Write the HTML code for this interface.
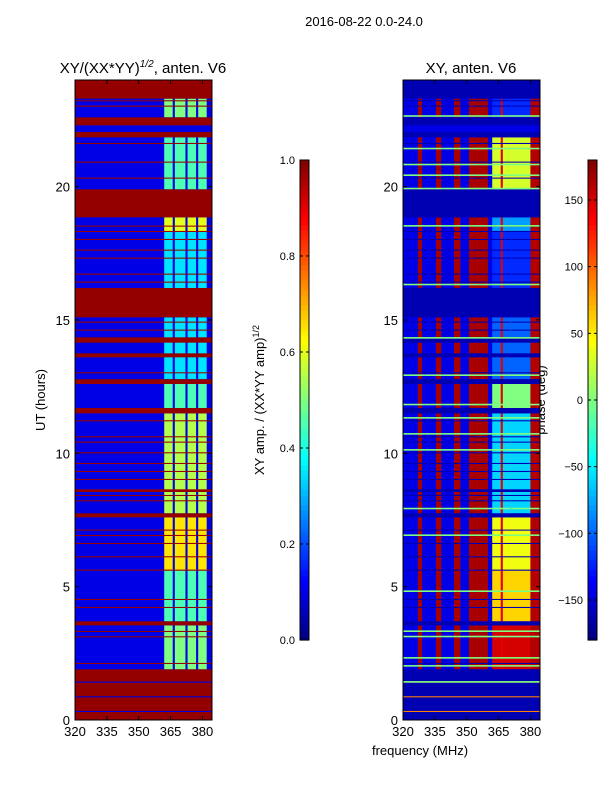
<!DOCTYPE html>
<html><head><meta charset="utf-8">
<style>
html,body{margin:0;padding:0;background:#fff;}
svg{display:block;font-family:"Liberation Sans",sans-serif;}
</style></head>
<body>
<svg id="fig" width="600" height="800" viewBox="0 0 600 800">
<text x="364" y="26" font-size="13" text-anchor="middle">2016-08-22 0.0-24.0</text>
<text x="143" y="73" font-size="15" text-anchor="middle">XY/(XX*YY)<tspan dy="-6" font-size="10" font-style="italic">1/2</tspan><tspan dy="6">, anten. V6</tspan></text>
<text x="471" y="73" font-size="15" text-anchor="middle">XY, anten. V6</text>
<text transform="translate(45,400) rotate(-90)" font-size="13" text-anchor="middle">UT (hours)</text>
<text transform="translate(264,400) rotate(-90)" font-size="13" text-anchor="middle">XY amp. / (XX*YY amp)<tspan dy="-5" font-size="9">1/2</tspan></text>
<text transform="translate(545,400) rotate(-90)" font-size="13" text-anchor="middle">phase (deg)</text>
<text x="420" y="755" font-size="13" text-anchor="middle">frequency (MHz)</text>
<g id="left"></g>
<g id="right"></g>
<g id="cbs"></g>
</svg>
<script>
// ---- data ----
const flagged = [[0,1.9],[15.1,16.2],[18.85,19.9],[23.3,24],[22.3,22.6],[21.85,22.05],[11.5,11.7],[7.6,7.75],[3.55,3.7],[12.6,12.78],[13.6,13.75],[14.15,14.35],[8.55,8.65]];
const thinFlags = [2.1,3.1,3.3,4.2,4.5,5.6,6.1,6.6,6.9,7.1,8.2,8.4,9.0,9.3,9.6,10.0,10.4,10.6,11.2,13.0,14.6,14.9,16.4,16.7,17.3,17.6,18.0,18.3,18.5,20.3,20.9,21.6,23.0,23.2];
const gapLines = [0.3,0.85,1.4];
const bandStart = [1.9,3.7,5.6,7.75,11.7,12.78,16.2,18.3,19.9,22.6];
const bandEnd   = [3.55,5.6,7.6,11.5,12.6,15.1,18.3,18.85,21.85,23.3];
const bandAmp   = [0.5,0.45,0.65,0.55,0.45,0.35,0.35,0.6,0.45,0.5];
const bandPhase = [150,60,40,-60,0,-100,-120,-80,30,-120];
const lowAmp = 0.1;
const hiCols = [[362,366],[367,372],[373,377],[378,382]];
const redStripes = [[327,329],[335.5,338],[344,347],[351,360]];
const greenLines = [1.4,2.0,2.3,3.1,3.3,4.8,6.9,7.9,10.1,10.7,11.3,11.8,12.9,14.3,16.3,18.5,19.9,20.4,20.8,21.4,22.62];
const xTicks = [320,335,350,365,380];
const yTicks = [0,5,10,15,20];
const ampTicks = [0.0,0.2,0.4,0.6,0.8,1.0];
const phaseTicks = [-150,-100,-50,0,50,100,150];
// ---- helpers ----
const NS="http://www.w3.org/2000/svg";
function jet(v){v=Math.max(0,Math.min(1,v));
 const r=Math.max(0,Math.min(1,1.5-Math.abs(4*v-3))),g=Math.max(0,Math.min(1,1.5-Math.abs(4*v-2))),b=Math.max(0,Math.min(1,1.5-Math.abs(4*v-1)));
 return `rgb(${Math.round(r*255)},${Math.round(g*255)},${Math.round(b*255)})`;}
function mk(p,tag,a){const e=document.createElementNS(NS,tag);for(const k in a)e.setAttribute(k,a[k]);p.appendChild(e);return e;}
const Y0=720,Y1=80,F0=320,F1=384.5;
function yS(h){return Y0-(h/24)*(Y0-Y1);}
function panel(gid,x0,isPhase){
 const g=document.getElementById(gid),w=137;
 const xS=f=>x0+(f-F0)/(F1-F0)*w;
 function rect(f0,f1,h0,h1,c,name){const r=mk(g,'rect',{x:xS(f0),y:yS(h1),width:xS(f1)-xS(f0),height:Math.max(0.8,yS(h0)-yS(h1)),fill:c});
  
  }
 const flagC=isPhase?jet(0.05):jet(0.98);
 rect(F0,F1,0,24,isPhase?jet(0.1):jet(lowAmp),'background-cells');
 bandStart.forEach((s,i)=>{const e=bandEnd[i];
  if(isPhase){
   redStripes.forEach(st=>rect(st[0],st[1],s,e,jet(0.96),'phase-stripe'));
   rect(362,380,s,e,jet((bandPhase[i]+180)/360),'phase-band');
   rect(380,F1,s,e,jet(0.95),'phase-edge');
   rect(366,367,s,e,jet(0.9),'phase-divider');
  }else{
   hiCols.forEach(c=>rect(c[0],c[1],s,e,jet(bandAmp[i]),'amp-band'));
  }});
 flagged.forEach(f=>rect(F0,F1,f[0],f[1],flagC,'flagged-interval'));
 thinFlags.forEach(t=>rect(F0,F1,t,t+0.04,flagC,'flagged-line'));
 gapLines.forEach(t=>rect(F0,F1,t,t+0.04,isPhase?jet(0.75):jet(0.1),'gap-line'));
 if(isPhase) greenLines.forEach(t=>rect(F0,F1,t,t+0.06,'#7fff7f','green-line'));
 mk(g,'rect',{x:x0,y:Y1,width:w,height:Y0-Y1,fill:'none',stroke:'#000','stroke-width':1});
 xTicks.forEach(f=>{const x=xS(f);mk(g,'line',{x1:x,x2:x,y1:Y0,y2:Y0-4,stroke:'#000'});mk(g,'line',{x1:x,x2:x,y1:Y1,y2:Y1+4,stroke:'#000'});
  const t=mk(g,'text',{x:x,y:Y0+16,'font-size':13,'text-anchor':'middle'});t.textContent=f;
  
  });
 yTicks.forEach(h=>{const y=yS(h);mk(g,'line',{x1:x0,x2:x0+4,y1:y,y2:y,stroke:'#000'});mk(g,'line',{x1:x0+w,x2:x0+w-4,y1:y,y2:y,stroke:'#000'});
  const t=mk(g,'text',{x:x0-5,y:y+5,'font-size':13,'text-anchor':'end'});t.textContent=h;
  
  });
}
panel('left',75,false);
panel('right',403,true);
function cbar(x,ticks,lo,hi,name,labX,fmt){
 const g=document.getElementById('cbs'),top=160,bot=640,n=96;
 const gg=mk(g,'g',{});
 for(let i=0;i<n;i++){mk(gg,'rect',{x:x,y:bot-(i+1)*(bot-top)/n,width:9,height:(bot-top)/n+0.6,fill:jet((i+0.5)/n)});}
 mk(gg,'rect',{x:x,y:top,width:9,height:bot-top,fill:'none',stroke:'#000'});
 ticks.forEach(v=>{const y=bot-(v-lo)/(hi-lo)*(bot-top);mk(gg,'line',{x1:x,x2:x+3,y1:y,y2:y,stroke:'#000'});mk(gg,'line',{x1:x+9,x2:x+6,y1:y,y2:y,stroke:'#000'});
  const t=mk(gg,'text',{x:labX,y:y+4,'font-size':11,'text-anchor':'end'});t.textContent=fmt(v);
  
  });
}
cbar(300,ampTicks,0,1,'amplitude-colorbar',295,v=>v.toFixed(1));
cbar(588,phaseTicks,-180,180,'phase-colorbar',583,v=>v<0?'\u2212'+(-v):String(v));
</script>
</body></html>
